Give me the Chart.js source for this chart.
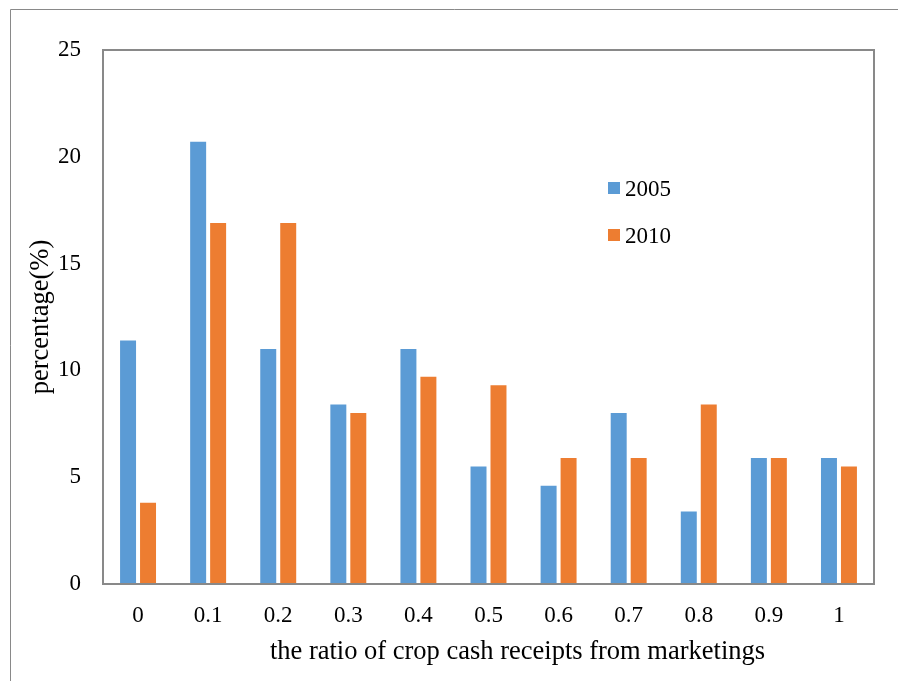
<!DOCTYPE html>
<html lang="en">
<head>
    <meta charset="UTF-8">
    <title>Crop cash receipts ratio</title>
    <script src="https://cdn.jsdelivr.net/npm/chart.js@4/dist/chart.umd.min.js"></script>
    <style>
        html, body { margin: 0; padding: 0; background: #fff; }
        #wrap { width: 898px; height: 681px; position: relative; }
    </style>
</head>
<body>
    <div id="wrap"><canvas id="myChart"></canvas></div>

    <script>
        // chart data
        const categories = ['0', '0.1', '0.2', '0.3', '0.4', '0.5', '0.6', '0.7', '0.8', '0.9', '1'];
        const values2005 = [11.4, 20.7, 11.0, 8.4, 11.0, 5.5, 4.6, 8.0, 3.4, 5.9, 5.9];
        const values2010 = [3.8, 16.9, 16.9, 8.0, 9.7, 9.3, 5.9, 5.9, 8.4, 5.9, 5.5];
        const yTicks = [0, 5, 10, 15, 20, 25];
        const xTitle = 'the ratio of crop cash receipts from marketings';

        const font = 'Liberation Serif';
        const gray = '#898989';

        // outer frame, plot box, x title (sits right of centre) and in-plot legend
        const decorations = {
            id: 'decorations',
            beforeDraw(chart) {
                const ctx = chart.ctx;
                ctx.save();
                ctx.strokeStyle = gray;
                ctx.lineWidth = 1;
                ctx.beginPath();
                ctx.moveTo(10.5, 681);
                ctx.lineTo(10.5, 9.5);
                ctx.lineTo(898, 9.5);
                ctx.stroke();
                ctx.restore();
            },
            afterDatasetsDraw(chart) {
                const ctx = chart.ctx;
                const a = chart.chartArea;
                ctx.save();
                ctx.strokeStyle = gray;
                ctx.lineWidth = 2;
                ctx.strokeRect(a.left, a.top, a.right - a.left, a.bottom - a.top);

                ctx.fillStyle = '#000';
                ctx.font = '26.5px "' + font + '"';
                ctx.textAlign = 'center';
                ctx.textBaseline = 'middle';
                ctx.fillText(xTitle, (a.left + a.right) / 2 + 29, a.bottom + 68);

                ctx.font = '23px "' + font + '"';
                ctx.textAlign = 'left';
                ctx.textBaseline = 'alphabetic';
                chart.data.datasets.forEach((ds, i) => {
                    const x = a.left + 505;
                    const y = a.top + 132 + i * 47;
                    ctx.fillStyle = ds.backgroundColor;
                    ctx.fillRect(x, y, 12, 12);
                    ctx.fillStyle = '#000';
                    ctx.fillText(ds.label, x + 17, y + 14);
                });
                ctx.restore();
            }
        };

        new Chart(document.getElementById('myChart'), {
            type: 'bar',
            data: {
                labels: categories,
                datasets: [
                    { label: '2005', data: values2005, backgroundColor: '#5B9BD5' },
                    { label: '2010', data: values2010, backgroundColor: '#ED7D31' }
                ]
            },
            options: {
                responsive: true,
                maintainAspectRatio: false,
                animation: false,
                categoryPercentage: 0.57,
                barPercentage: 0.8,
                layout: { padding: { left: 0, top: 50, right: 24, bottom: 0 } },
                plugins: {
                    legend: { display: false },
                    tooltip: { enabled: false }
                },
                scales: {
                    x: {
                        grid: { display: false, drawTicks: false },
                        border: { display: false },
                        ticks: { color: '#000', font: { family: font, size: 23 }, padding: 18, maxRotation: 0 },
                        afterFit(scale) { scale.height = 97; }
                    },
                    y: {
                        min: 0,
                        max: 25,
                        afterBuildTicks(scale) { scale.ticks = yTicks.map(v => ({ value: v })); },
                        grid: { display: false, drawTicks: false },
                        border: { display: false },
                        ticks: { color: '#000', font: { family: font, size: 23 }, padding: 22 },
                        title: {
                            display: true,
                            text: 'percentage(%)',
                            color: '#000',
                            font: { family: font, size: 26.5 },
                            padding: { top: 25, bottom: 0 }
                        },
                        afterFit(scale) { scale.width = 103; }
                    }
                }
            },
            plugins: [decorations]
        });
    </script>
</body>
</html>
